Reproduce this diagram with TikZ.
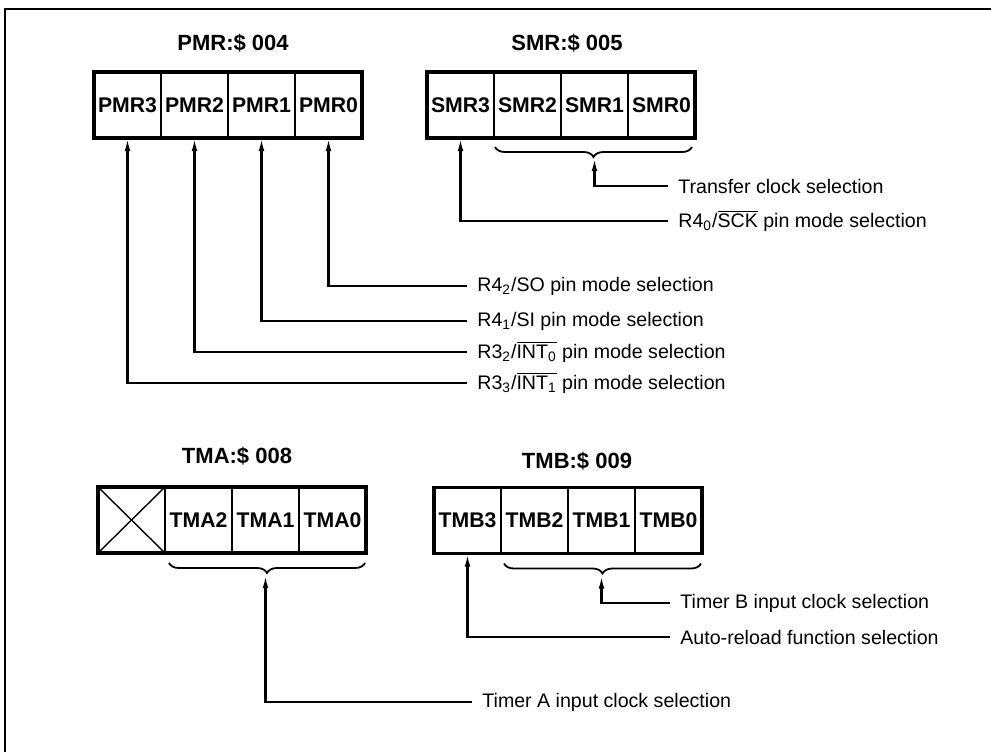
\documentclass[tikz,border=0pt]{standalone}
\usepackage{fontspec}
\setmainfont{Liberation Sans}
\usetikzlibrary{arrows.meta}
\usetikzlibrary{positioning,calc}
\usetikzlibrary{decorations.pathreplacing}

\begin{document}
\begin{tikzpicture}[x=0.5pt,y=-0.5pt]
		\tikzset{
			cell/.style={draw,line width=1pt,minimum width=33.5pt,minimum height=33pt,inner sep=0pt,outer sep=0pt,font=\bfseries\fontsize{10.6}{12}\selectfont},
			regbox/.style={line width=1.6pt},
			regtitle/.style={font=\bfseries\fontsize{11}{13}\selectfont},
			note/.style={anchor=west,inner sep=5pt,font=\fontsize{9.8}{12}\selectfont},
			lead/.style={line width=1.05pt,-{Latex[length=6.5pt,width=2.8pt]}},
			grp/.style={decorate,decoration={brace,mirror,amplitude=5pt},line width=0.9pt},
			frame/.style={line width=1.4pt}
		}
		\useasboundingbox (0,0) rectangle (991,752);
		\draw[frame] (991,9) -- (5,9) -- (5,752);
		% PMR
		\node[regtitle] (pmrt) at (233,43) {PMR:\$ 004};
		\node[cell] (pmr3) at (127.5,105) {PMR3};
		\node[cell,right=0pt of pmr3] (pmr2) {PMR2};
		\node[cell,right=0pt of pmr2] (pmr1) {PMR1};
		\node[cell,right=0pt of pmr1] (pmr0) {PMR0};
		\draw[regbox] (pmr3.north west) rectangle (pmr0.south east);
		\node[note] (pso) at (467,286) {R4\textsubscript{2}/SO pin mode selection};
		\node[note] (psi) at (467,321) {R4\textsubscript{1}/SI pin mode selection};
		\node[note] (pint0) at (467,352) {R3\textsubscript{2}/$\overline{\mbox{INT\textsubscript{0}}}$ pin mode selection};
		\node[note] (pint1) at (467,383) {R3\textsubscript{3}/$\overline{\mbox{INT\textsubscript{1}}}$ pin mode selection};
		\draw[lead] (pso.west) -| (pmr0.south);
		\draw[lead] (psi.west) -| (pmr1.south);
		\draw[lead] (pint0.west) -| (pmr2.south);
		\draw[lead] (pint1.west) -| (pmr3.south);
		% SMR
		\node[regtitle] (smrt) at (567,43) {SMR:\$ 005};
		\node[cell] (smr3) at (460.5,105) {SMR3};
		\node[cell,right=0pt of smr3] (smr2) {SMR2};
		\node[cell,right=0pt of smr2] (smr1) {SMR1};
		\node[cell,right=0pt of smr1] (smr0) {SMR0};
		\draw[regbox] (smr3.north west) rectangle (smr0.south east);
		\draw[grp] ([xshift=0.5pt,yshift=-4.5pt]smr2.south west) -- ([xshift=-1.5pt,yshift=-4.5pt]smr0.south east);
		\coordinate (smrtip) at ($(smr2.south west)!.5!(smr0.south east)+(0,20)$);
		\node[note] (stcs) at (668,186) {Transfer clock selection};
		\node[note] (ssck) at (668,221) {R4\textsubscript{0}/$\overline{\mbox{SCK}}$ pin mode selection};
		\draw[lead] (stcs.west) -| (smrtip);
		\draw[lead] (ssck.west) -| (smr3.south);
		% TMA
		\node[regtitle] (tmat) at (237,456) {TMA:\$ 008};
		\node[cell] (tmax) at (131.5,520) {};
		\node[cell,right=0pt of tmax] (tma2) {TMA2};
		\node[cell,right=0pt of tma2] (tma1) {TMA1};
		\node[cell,right=0pt of tma1] (tma0) {TMA0};
		\draw[line width=0.7pt] (tmax.north west) -- (tmax.south east) (tmax.south west) -- (tmax.north east);
		\draw[regbox] (tmax.north west) rectangle (tma0.south east);
		\draw[grp] ([xshift=2pt,yshift=-5pt]tma2.south west) -- ([xshift=-0.5pt,yshift=-5pt]tma0.south east);
		\coordinate (tmatip) at ($(tma2.south west)!.5!(tma0.south east)+(0,22)$);
		\node[note] (tacs) at (472,702) {Timer A input clock selection};
		\draw[lead] (tacs.west) -| (tmatip);
		% TMB
		\node[regtitle] (tmbt) at (577,461) {TMB:\$ 009};
		\node[cell] (tmb3) at (467.5,520.5) {TMB3};
		\node[cell,right=0pt of tmb3] (tmb2) {TMB2};
		\node[cell,right=0pt of tmb2] (tmb1) {TMB1};
		\node[cell,right=0pt of tmb1] (tmb0) {TMB0};
		\draw[regbox] (tmb3.north west) rectangle (tmb0.south east);
		\draw[grp] ([xshift=1.5pt,yshift=-5pt]tmb2.south west) -- ([xshift=-0.5pt,yshift=-5pt]tmb0.south east);
		\coordinate (tmbtip) at ($(tmb2.south west)!.5!(tmb0.south east)+(0,22)$);
		\node[note] (tbcs) at (670,603) {Timer B input clock selection};
		\node[note] (tarl) at (670,637) {Auto-reload function selection};
		\draw[lead] (tbcs.west) -| (tmbtip);
		\draw[lead] (tarl.west) -| (tmb3.south);
\end{tikzpicture}
\end{document}
